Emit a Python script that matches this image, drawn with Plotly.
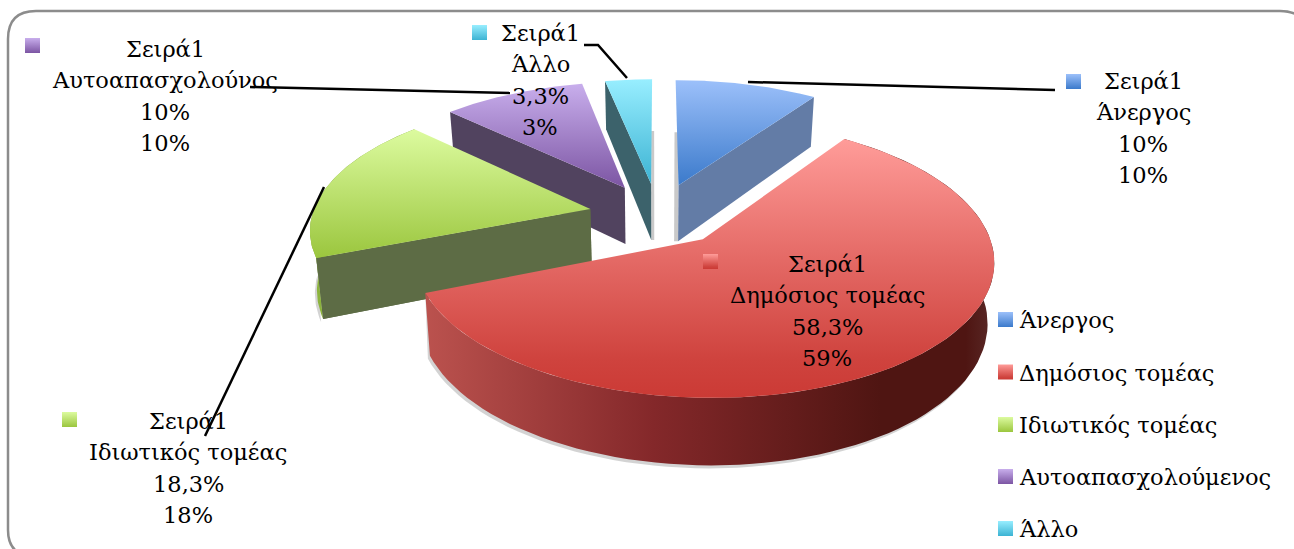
import numpy as np
import plotly.graph_objects as go

# ---------- data ----------
categories = ["Άνεργος", "Δημόσιος τομέας", "Ιδιωτικός τομέας", "Αυτοαπασχολούμενος", "Άλλο"]
label_names = ["Άνεργος", "Δημόσιος τομέας", "Ιδιωτικός τομέας", "Αυτοαπασχολούνος", "Άλλο"]
series_name = "Σειρά1"
values = [10, 58.3, 18.3, 10, 3.3]
value_texts = ["10%", "58,3%", "18,3%", "10%", "3,3%"]
percent_texts = ["10%", "59%", "18%", "10%", "3%"]

# ---------- styles / layout constants ----------
FONT = "DejaVu Serif"
FS = 22.5
LINE = 31.5
top_colors = [
    [[0, "#9cc0fa"], [1, "#3b7acb"]],
    [[0, "#ff9c99"], [0.45, "#e56b67"], [0.85, "#cf433e"], [1, "#cb3a35"]],
    [[0, "#dcfb9f"], [1, "#9bc63e"]],
    [[0, "#c8aeec"], [1, "#7c55a3"]],
    [[0, "#98eeff"], [1, "#3cb3d3"]],
]
wall_colors = ["#637ca6", "#8a2a27", "#5d6c45", "#51435f", "#3c626b"]
arc_wall = [None, [[0, "#bb524e"], [0.4, "#84282a"], [0.8, "#4f1512"], [0.95, "#4f1512"], [1, "#5a2a28"]],
            [[0, "#8cb33d"], [1, "#8cb33d"]], None, None]
CX, CY, RX, RY, K, EXPL, APEX_DROP = 658, 209, 276, 126, 0.17, 0.25, 5
label_pos = [(1143, 128), (827, 311), (188, 468), (165, 96), (540, 80)]
key_pos = [(1066, 74), (703, 254), (62, 412), (25, 38), (472, 25)]
legend_x, legend_ys = 998, [312, 364.5, 417, 469, 521]
KEY = 15
leaders = [
    ([748, 1055], [82, 90]),
    None,
    ([205, 324], [436, 187]),
    ([250, 510], [87, 93]),
    ([584, 598, 627], [45, 45, 78]),
]


def proj(X, Y):
    """Perspective projection of a point of the pie's plane."""
    w = 1 + K * Y
    return CX + RX * X / w, CY - RY * Y / w


def down(x, y, Y):
    """Same point on the bottom face of the slab."""
    return CX + (x - CX) * 0.98, y + 58 - 8 * Y


def poly(fig, xs, ys, color=None, grad=None, lo=0, hi=0, gtype="vertical"):
    kw = dict(x=list(xs), y=list(ys), mode="lines", fill="toself", line=dict(width=0),
              hoverinfo="skip", showlegend=False)
    if grad:
        kw["fillgradient"] = dict(type=gtype, colorscale=grad, start=lo, stop=hi)
    else:
        kw["fillcolor"] = color
    fig.add_trace(go.Scatter(**kw))


fig = go.Figure()
total = sum(values)
edges = np.concatenate([[0], np.cumsum([v / total for v in values])]) * 2 * np.pi

slices = {}
for i in range(len(values)):
    a0, a1 = edges[i], edges[i + 1]
    mid = (a0 + a1) / 2
    ex, ey = EXPL * np.sin(mid), EXPL * np.cos(mid)
    ax, ay = proj(ex, ey)
    ay = ay + APEX_DROP
    ang = np.linspace(a0, a1, 90)
    X, Y = ex + np.sin(ang), ey + np.cos(ang)
    tx, ty = proj(X, Y)
    slices[i] = (ax, ay, ey, tx, ty, Y)

# drawn back to front
for i in [4, 3, 0, 2, 1]:
    ax, ay, aY, tx, ty, tY = slices[i]
    bx, by = down(tx, ty, tY)
    abx, aby = down(ax, ay, aY)
    # soft contact shadow
    if i in (1, 2):
        poly(fig, list(tx) + list(bx - 2)[::-1], list(ty) + list(by + 3)[::-1], "rgba(110,110,110,0.3)")
    if i in (0, 4):
        poly(fig, [ax - 4 if i == 0 else ax, ax if i == 0 else ax + 3,
                   abx if i == 0 else abx + 3, abx - 4 if i == 0 else abx],
             [ay - 53, ay - 53, aby, aby], "rgba(120,120,120,0.4)")
    j = -1 if i == 0 else 0
    if i != 1:
        poly(fig, [ax, tx[j], bx[j], abx], [ay, ty[j], by[j], aby], wall_colors[i])
    if arc_wall[i]:
        ox, oy = list(tx) + list(bx)[::-1], list(ty) + list(by)[::-1]
        poly(fig, ox, oy, grad=arc_wall[i], lo=min(ox), hi=max(ox), gtype="horizontal")
    if i == 2:
        poly(fig, [ax, tx[0], bx[0], abx], [ay, ty[0], by[0], aby], wall_colors[i])
    fx, fy = [ax] + list(tx), [ay] + list(ty)
    poly(fig, fx, fy, grad=top_colors[i], lo=min(fy), hi=max(fy))

# leader lines
for seg in leaders:
    if seg:
        fig.add_trace(go.Scatter(x=seg[0], y=seg[1], mode="lines", line=dict(color="black", width=2.5),
                                 hoverinfo="skip", showlegend=False))


def key(x, y, i):
    poly(fig, [x, x + KEY, x + KEY, x], [y, y, y + KEY, y + KEY], grad=top_colors[i], lo=y, hi=y + KEY)


ann = []
for i in range(len(values)):
    lx, ly = label_pos[i]
    lines = [series_name, label_names[i], value_texts[i], percent_texts[i]]
    for n, line in enumerate(lines):
        ann.append(dict(x=lx, y=ly + (n - 1.5) * LINE, xref="x", yref="y", showarrow=False,
                        text=line, font=dict(family=FONT, size=FS, color="#000")))
    key(*key_pos[i], i)
    key(legend_x, legend_ys[i], i)
    ann.append(dict(x=legend_x + 19, y=legend_ys[i] + 8, xref="x", yref="y", showarrow=False, xanchor="left",
                    text=categories[i], font=dict(family=FONT, size=FS, color="#000")))

frame = "M 40 558 Q 8 558 8 530 L 8 39 Q 8 11 36 11 L 1280 11 Q 1308 11 1308 39"
fig.update_layout(
    width=1294, height=549, margin=dict(l=0, r=0, t=0, b=0),
    paper_bgcolor="white", plot_bgcolor="white", showlegend=False,
    xaxis=dict(range=[0, 1294], visible=False, fixedrange=True),
    yaxis=dict(range=[549, 0], visible=False, fixedrange=True),
    annotations=ann,
    shapes=[dict(type="path", path=frame, xref="x", yref="y", line=dict(color="#8c8c8c", width=2.5), layer="below")],
)
fig.write_html("out.html", config={"displayModeBar": False},
               post_script="document.body.style.margin='0';document.body.style.overflow='hidden';")
